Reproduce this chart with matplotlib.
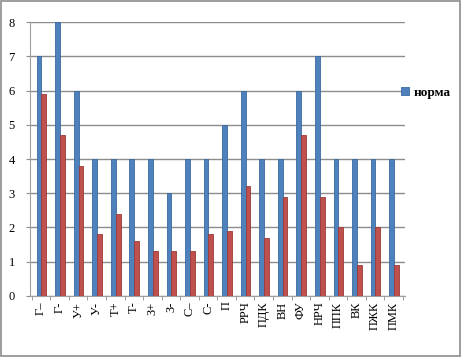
import numpy as np
import matplotlib
matplotlib.use("Agg")
import matplotlib.pyplot as plt
from matplotlib.patches import Rectangle

labels = ["Г–", "Г-", "У+", "У-", "Т+", "Т-", "З+", "З-", "С–", "С-", "П",
          "РРЧ", "ПДК", "ВН", "ФУ", "НРЧ", "ППК", "ВК", "ПЖК", "ПМК"]
norma = [7, 8, 6, 4, 4, 4, 4, 3, 4, 4, 5, 6, 4, 4, 6, 7, 4, 4, 4, 4]
fact = [5.9, 4.7, 3.8, 1.8, 2.4, 1.6, 1.3, 1.3, 1.3, 1.8, 1.9, 3.2, 1.7,
        2.9, 4.7, 2.9, 2.0, 0.9, 2.0, 0.9]

plt.rcParams['font.family'] = ['Liberation Serif', 'DejaVu Serif']

fig = plt.figure(figsize=(4.61, 3.57), dpi=100)
ax = fig.add_axes([0.065, 0.171, 0.813, 0.767])

x = np.arange(len(labels))
w = 0.26
b1 = ax.bar(x - w / 2 + 0.02, norma, w, color="#4F81BD", edgecolor="#3A6A9F",
            linewidth=0.6, label="норма", zorder=3)
ax.bar(x + w / 2 + 0.02, fact, w, color="#C0504D", edgecolor="#9A3B38",
       linewidth=0.6, zorder=3)

ax.set_xlim(-0.6, len(labels) - 0.4)
ax.set_ylim(0, 8)
ax.set_yticks(range(9))
ax.yaxis.grid(True, color="#8c8c8c", linewidth=1.0, zorder=0)
ax.set_xticks(x)
ax.set_xticklabels(labels, rotation=90, fontsize=9)
ax.tick_params(axis='x', length=0, pad=4)
ax.tick_params(axis='y', labelsize=9, length=3, color="#8c8c8c", pad=8)
ax.set_xticks(np.arange(-0.5, len(labels), 1), minor=True)
ax.tick_params(axis='x', which='minor', length=3, color="#8c8c8c")
for s in ["top", "right"]:
    ax.spines[s].set_visible(False)
for s in ["left", "bottom"]:
    ax.spines[s].set_color("#a0a0a0")

fig.legend(handles=[b1], labels=["норма"], loc="upper left",
           bbox_to_anchor=(0.845, 0.79), frameon=False, handlelength=0.6,
           handleheight=0.6, handletextpad=0.3, prop={'weight': 'bold', 'size': 9.5})

fig.patches.append(Rectangle((0.002, 0.003), 0.995, 0.994, transform=fig.transFigure,
                             fill=False, edgecolor="#8c8c8c", linewidth=1.2))

fig.savefig("out.png", dpi=100)
